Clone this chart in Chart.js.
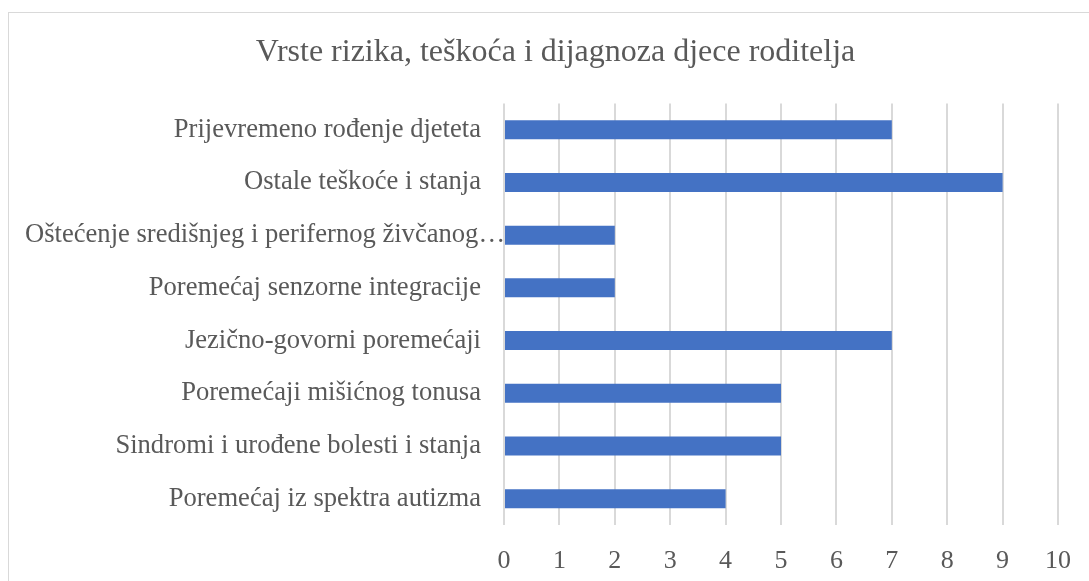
<!DOCTYPE html>
<html>
<head>
<meta charset="utf-8">
<script src="https://cdn.jsdelivr.net/npm/chart.js@4.4.0/dist/chart.umd.min.js"></script>
<style>
  html, body { margin: 0; padding: 0; background: #ffffff; }
  #wrap { position: relative; width: 1089px; height: 581px; overflow: hidden; }
  #frame { position: absolute; left: 8px; top: 12px; width: 1100px; height: 600px;
           border-left: 1px solid #d9d9d9; border-top: 1px solid #d9d9d9; }
  canvas { position: absolute; left: 0; top: 0; }
</style>
</head>
<body>
<div id="wrap">
  <div id="frame"></div>
  <canvas id="rizikChart" width="1089" height="581"></canvas>
</div>
<script>
// podaci s grafikona
var kategorije = [
    'Prijevremeno rođenje djeteta',
    'Ostale teškoće i stanja',
    'Oštećenje središnjeg i perifernog živčanog…',
    'Poremećaj senzorne integracije',
    'Jezično-govorni poremećaji',
    'Poremećaji mišićnog tonusa',
    'Sindromi i urođene bolesti i stanja',
    'Poremećaj iz spektra autizma'
];
var broj = [7, 9, 2, 2, 7, 5, 5, 4];
var osX = [0, 1, 2, 3, 4, 5, 6, 7, 8, 9, 10];

var pismo = "'Liberation Serif', 'Times New Roman', serif";
var sivaTekst = '#595959';
var velicinaOznaka = 26.6;

// predugu oznaku pomakni desno do stupca (kao u Excelu), naslov malo udesno
var pomakOznake = {
    id: 'pomakOznake',
    afterLayout: function(chart) {
        var y = chart.scales.y;
        var items = y.getLabelItems(chart.chartArea);
        var ctx = chart.ctx;
        ctx.save();
        ctx.font = velicinaOznaka + 'px ' + pismo;
        items.forEach(function(it) {
            var w = ctx.measureText(it.label).width;
            var start = it.options.translation[0] - w;
            if (start < 40) {
                it.options.translation[0] = chart.chartArea.left + 1;
            }
        });
        ctx.restore();
        if (chart.titleBlock) {
            chart.titleBlock.left += 11;
            chart.titleBlock.right += 11;
        }
    }
};

var ctx = document.getElementById('rizikChart').getContext('2d');
var grafikon = new Chart(ctx, {
    type: 'bar',
    data: {
        labels: kategorije,
        datasets: [{
            data: broj,
            backgroundColor: '#4472C4',
            borderWidth: 0,
            categoryPercentage: 1.0,
            barPercentage: 0.36
        }]
    },
    plugins: [pomakOznake],
    options: {
        indexAxis: 'y',
        responsive: false,
        animation: false,
        layout: { padding: { left: 0, right: 0, top: 33, bottom: 0 } },
        plugins: {
            legend: { display: false },
            tooltip: { enabled: false },
            title: {
                display: true,
                text: 'Vrste rizika, teškoća i dijagnoza djece roditelja',
                color: sivaTekst,
                font: { family: pismo, size: 32, weight: 'normal' },
                padding: { top: 0, bottom: 32 }
            }
        },
        scales: {
            x: {
                min: 0,
                max: 10,
                afterBuildTicks: function(s) {
                    s.ticks = osX.map(function(v) { return { value: v }; });
                },
                afterFit: function(s) {
                    s.height = 56;
                    s.paddingLeft = 0;
                    s.paddingRight = 31;
                },
                grid: { color: '#d9d9d9', lineWidth: 2, drawTicks: false },
                border: { display: false },
                ticks: {
                    color: sivaTekst,
                    padding: 21,
                    font: { family: pismo, size: 26 }
                }
            },
            y: {
                grid: { display: false },
                border: { display: false },
                afterFit: function(s) { s.width = 504; },
                ticks: {
                    color: sivaTekst,
                    padding: 15,
                    autoSkip: false,
                    font: { family: pismo, size: velicinaOznaka }
                }
            }
        }
    }
});
</script>
</body>
</html>
